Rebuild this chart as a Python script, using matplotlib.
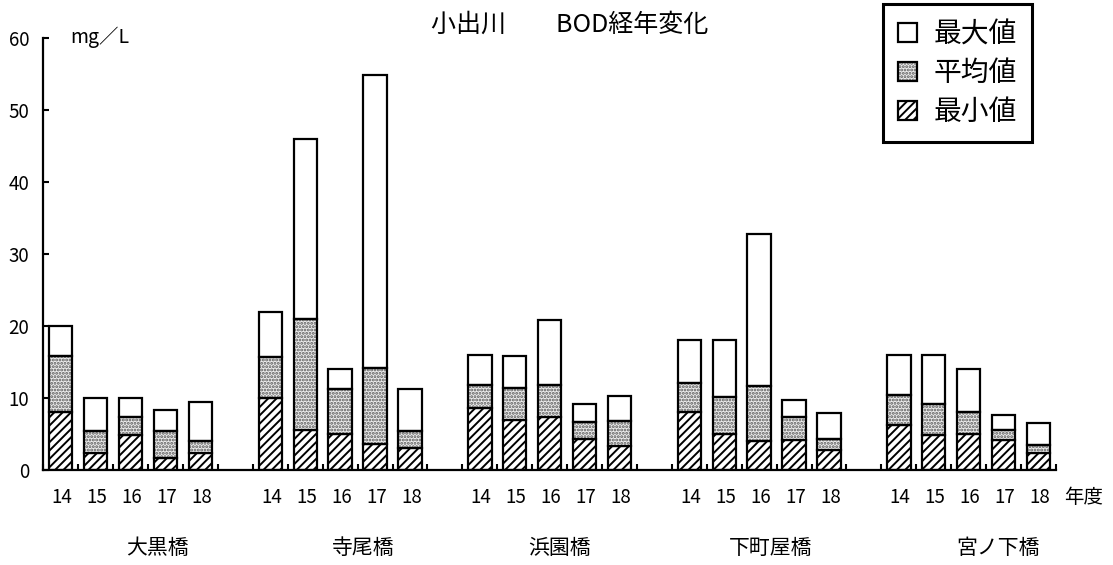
import matplotlib
matplotlib.use('Agg')
import matplotlib.pyplot as plt
from matplotlib.legend_handler import HandlerTuple

plt.rcParams['font.family'] = ['Noto Sans CJK JP', 'DejaVu Sans']
plt.rcParams['hatch.linewidth'] = 1.4

# ---- data ----
sites = ['大黒橋', '寺尾橋', '浜園橋', '下町屋橋', '宮ノ下橋']
years = ['14', '15', '16', '17', '18']
min_vals = [[8.0, 2.3, 4.8, 1.7, 2.4],
            [10.0, 5.6, 5.0, 3.6, 3.0],
            [8.6, 6.9, 7.3, 4.35, 3.4],
            [8.05, 5.0, 4.0, 4.1, 2.8],
            [6.3, 4.9, 5.0, 4.1, 2.35]]
avg_vals = [[15.8, 5.4, 7.4, 5.4, 4.0],
            [15.7, 21.0, 11.3, 14.1, 5.4],
            [11.85, 11.4, 11.8, 6.6, 6.8],
            [12.1, 10.1, 11.7, 7.3, 4.35],
            [10.4, 9.2, 8.05, 5.55, 3.5]]
max_vals = [[20.0, 10.0, 10.0, 8.3, 9.4],
            [22.0, 46.0, 14.0, 54.8, 11.3],
            [16.0, 15.8, 20.8, 9.2, 10.3],
            [18.0, 18.0, 32.8, 9.7, 7.9],
            [16.0, 16.0, 14.0, 7.6, 6.5]]
label_max, label_avg, label_min = '最大値', '平均値', '最小値'
title = '小出川　　BOD経年変化'
unit = 'mg／L'
year_unit = '年度'

# ---- layout ----
W, H = 1113, 565
fig = plt.figure(figsize=(W / 100, H / 100), dpi=100)
ax = fig.add_axes([43.3 / W, 1 - 470 / H, (1056 - 43.3) / W, (470 - 38) / H])

n_groups = len(sites)
n_years = len(years)
slot = n_years + 1
n_slots = n_groups * slot - 1
bw = 0.67
lw = 1.6

xs, mins, avgs, maxs = [], [], [], []
for g in range(n_groups):
    for j in range(n_years):
        xs.append(g * slot + j + 0.5)
        mins.append(min_vals[g][j])
        avgs.append(avg_vals[g][j])
        maxs.append(max_vals[g][j])

avg_h = [a - m for a, m in zip(avgs, mins)]
max_h = [M - a for M, a in zip(maxs, avgs)]

b_min = ax.bar(xs, mins, width=bw, facecolor='white', edgecolor='black',
               hatch='////', linewidth=lw, zorder=2)
b_avg_fill = ax.bar(xs, avg_h, bottom=mins, width=bw, facecolor='#ececec',
                    edgecolor='#5a5a5a', hatch='.....', linewidth=0, zorder=2)
b_avg_line = ax.bar(xs, avg_h, bottom=mins, width=bw, fill=False,
                    edgecolor='black', linewidth=lw, zorder=3)
b_max = ax.bar(xs, max_h, bottom=avgs, width=bw, facecolor='white',
               edgecolor='black', linewidth=lw, zorder=2)

ax.set_xlim(0, n_slots)
ax.set_ylim(0, 60)
ax.set_yticks(range(0, 61, 10))
ax.set_xticks(range(0, n_slots + 1))
ax.set_xticklabels([])
ax.tick_params(axis='x', direction='in', length=4.5, width=1.5)
ax.tick_params(axis='y', direction='in', length=4.5, width=1.5, pad=10,
               labelsize=13.5)
for s in ['top', 'right']:
    ax.spines[s].set_visible(False)
for s in ['left', 'bottom']:
    ax.spines[s].set_linewidth(1.6)

# year labels
for g in range(n_groups):
    for j in range(n_years):
        ax.annotate(years[j], xy=(g * slot + j + 0.5, 0),
                    xycoords=('data', 'axes fraction'), xytext=(1, -20),
                    textcoords='offset points', ha='center', va='center',
                    fontsize=13.5)
ax.annotate(year_unit, xy=(n_slots + 0.8, 0), xycoords=('data', 'axes fraction'),
            xytext=(0, -20), textcoords='offset points', ha='center',
            va='center', fontsize=14, annotation_clip=False)

# site labels
site_offsets = [0.77, 0.66, 0.29, 0.34, 0.83]
for g in range(n_groups):
    ax.annotate(sites[g], xy=(g * slot + n_years / 2 + site_offsets[g], 0),
                xycoords=('data', 'axes fraction'), xytext=(0, -56),
                textcoords='offset points', ha='center', va='center',
                fontsize=15)

fig.text(570 / W, 1 - 25 / H, title, ha='center', va='center', fontsize=18)
fig.text(70 / W, 1 - 37 / H, unit, ha='left', va='center', fontsize=14)

leg = fig.legend([b_max.patches[0], (b_avg_fill.patches[0], b_avg_line.patches[0]),
                  b_min.patches[0]],
                 [label_max, label_avg, label_min],
                 handler_map={tuple: HandlerTuple(ndivide=1)},
                 loc='upper left', bbox_to_anchor=(883 / W, 1 - 4 / H),
                 bbox_transform=fig.transFigure, borderaxespad=0,
                 frameon=True, fancybox=False, edgecolor='black',
                 framealpha=1, fontsize=20, handlelength=0.68,
                 handleheight=0.68, handletextpad=0.6, labelspacing=0.32,
                 borderpad=0.55)
leg.get_frame().set_linewidth(2.2)

fig.savefig('out.png', dpi=100)
